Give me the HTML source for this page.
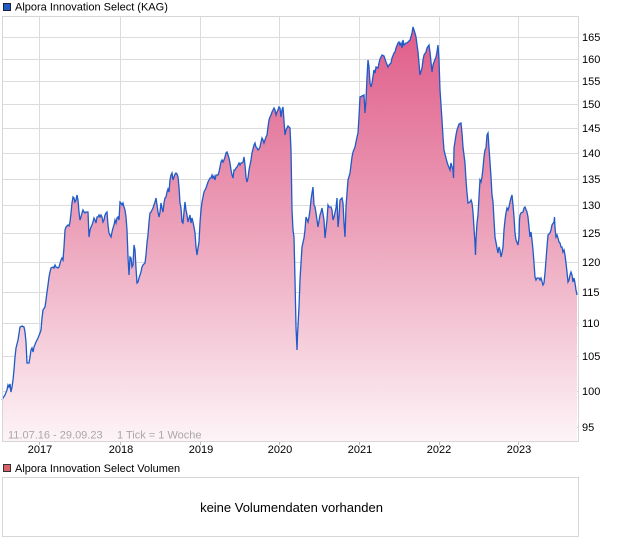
<!DOCTYPE html>
<html>
<head>
<meta charset="utf-8">
<style>
html,body{margin:0;padding:0;background:#fff;}
svg{display:block;}
text{font-family:"Liberation Sans",Arial,sans-serif;font-size:11px;}
</style>
</head>
<body>
<svg width="620" height="546" viewBox="0 0 620 546" xmlns="http://www.w3.org/2000/svg">
<defs>
<linearGradient id="fg" gradientUnits="userSpaceOnUse" x1="0" y1="20" x2="0" y2="441">
<stop offset="0" stop-color="#df5a88"/>
<stop offset="0.5" stop-color="#eca2ba"/>
<stop offset="1" stop-color="#fdf4f7"/>
</linearGradient>
</defs>
<rect x="0" y="0" width="620" height="546" fill="#fff"/>
<!-- title legend -->
<rect x="3.5" y="3.5" width="7" height="7" fill="#1f5bc6" stroke="#223" stroke-width="1"/>
<text x="15" y="10.5" fill="#000">Alpora Innovation Select (KAG)</text>
<!-- grid -->
<g stroke="#dcdcdc" stroke-width="1">
<line x1="2" x2="578" y1="37.5" y2="37.5"/>
<line x1="2" x2="578" y1="59.5" y2="59.5"/>
<line x1="2" x2="578" y1="81.5" y2="81.5"/>
<line x1="2" x2="578" y1="104.5" y2="104.5"/>
<line x1="2" x2="578" y1="128.5" y2="128.5"/>
<line x1="2" x2="578" y1="153.5" y2="153.5"/>
<line x1="2" x2="578" y1="179.5" y2="179.5"/>
<line x1="2" x2="578" y1="205.5" y2="205.5"/>
<line x1="2" x2="578" y1="233.5" y2="233.5"/>
<line x1="2" x2="578" y1="262.5" y2="262.5"/>
<line x1="2" x2="578" y1="292.5" y2="292.5"/>
<line x1="2" x2="578" y1="323.5" y2="323.5"/>
<line x1="2" x2="578" y1="356.5" y2="356.5"/>
<line x1="2" x2="578" y1="391.5" y2="391.5"/>
<line x1="2" x2="578" y1="427.5" y2="427.5"/>
<line x1="39.5" x2="39.5" y1="16" y2="441"/>
<line x1="120.5" x2="120.5" y1="16" y2="441"/>
<line x1="200.5" x2="200.5" y1="16" y2="441"/>
<line x1="279.5" x2="279.5" y1="16" y2="441"/>
<line x1="359.5" x2="359.5" y1="16" y2="441"/>
<line x1="439.5" x2="439.5" y1="16" y2="441"/>
<line x1="518.5" x2="518.5" y1="16" y2="441"/>
</g>
<!-- series -->
<path fill="url(#fg)" stroke="none" d="M2,400 L3,398 5,395 7,390 8,385 9,387 10,384 11,392 12,387 13,380 14,370 15,357 16,348 18,340 20,327 22,326 24,327 25,332 26,342 27,363 29,363 30,357 31,350 32,348 33,352 34,347 36,342 38,338 40,333 41,330 42,318 43,310 45,307 46,300 47,292 48,285 49,277 50,272 51,268 53,267 54,268 55,265 56,267 58,268 59,267 61,260 62,258 63,260 64,247 65,230 66,227 68,225 69,226 70,222 71,213 72,203 73,197 74,198 75,202 76,200 77,195 78,200 79,212 80,220 81,217 82,213 83,210 84,212 85,213 86,212 88,212 89,237 90,230 91,227 92,225 93,222 94,218 95,220 96,223 97,217 98,217 99,215 100,217 101,215 102,217 103,222 104,220 105,215 106,213 107,212 108,225 109,233 110,235 111,237 112,232 113,228 114,225 115,220 116,223 117,218 118,217 119,220 120,202 121,203 122,205 123,203 124,207 125,210 126,217 127,230 128,257 129,275 130,257 131,258 132,267 133,265 134,245 135,250 136,268 137,283 138,282 139,278 141,272 142,267 143,265 145,263 146,255 147,243 148,235 149,222 150,213 151,212 153,208 154,205 155,202 156,198 157,205 158,212 159,217 160,212 161,203 162,208 163,212 164,203 165,198 166,197 167,192 168,189 169,192 170,180 171,175 172,173 173,180 174,177 175,174 176,173 177,174 178,177 179,187 180,203 181,208 182,222 183,223 184,212 185,202 186,210 187,215 188,222 190,215 191,223 192,218 193,222 194,227 195,233 196,247 197,255 198,248 199,242 200,223 201,210 202,202 203,197 204,192 205,190 206,188 207,185 208,182 209,180 210,178 211,178 212,175 213,178 214,176 215,180 216,175 218,175 219,172 220,167 221,162 222,160 223,162 224,160 225,157 226,153 227,152 228,155 229,158 230,163 231,170 232,175 233,178 234,170 235,170 236,168 237,167 238,165 239,163 240,165 241,163 242,163 243,162 244,157 245,165 246,177 247,182 248,178 249,170 250,165 251,160 252,153 253,149 254,145 255,143 256,147 257,148 258,150 259,149 260,147 261,142 262,138 263,140 264,143 265,140 266,137 267,135 268,127 269,120 270,117 271,115 272,112 273,110 274,108 275,110 276,115 277,112 278,110 279,107 280,108 281,117 282,110 283,107 285,135 286,130 288,126 290,128 291,150 292,210 293,230 294,237 295,280 296,327 297,350 297.5,335 299,307 300,280 301,263 302,247 304,238 305,230 306,217 308,222 309,217 310,210 311,200 312,193 313,187 314,205 315,207 316,213 318,227 320,215 321,212 322,208 324,220 325,238 327,220 328,205 329,207 331,207 332,210 333,220 334,217 336,208 337,198 338,227 339,217 340,200 342,198 343,203 344,223 345,237 346,207 347,193 348,180 350,173 352,157 353,152 355,147 357,137 358,133 359,117 360,97 362,96 364,95 365,113 366,100 367,77 368,60 369,67 370,83 371,87 372,83 374,70 375,73 376,67 378,68 379,63 380,59 382,55 384,56 386,62 388,67 389,65 391,63 392,58 394,53 395,52 396,48 398,43 399,42 400,45 401,43 402,48 403,40 404,45 406,43 407,43 408,42 410,40 412,33 413,27 414,30 415,33 416,37 418,52 419,63 420,75 422,68 423,60 424,55 426,52 427,48 429,45 430,52 432,72 433,65 434,62 436,57 437,52 438,45 439,60 440,90 442,120 443,137 444,150 446,158 447,162 448,165 450,170 451,163 453,170 453.5,178 454,148 456,135 457,130 459,124 461,123 462,133 463,147 465,163 466,180 467,193 468,203 470,202 471,200 472,203 473,212 474,228 475,243 475.5,255 476,240 477,223 478,215 479,197 480,180 481,182 482,177 483,168 484,157 485,150 486,148 487,135 488,133 488.5,140 489,148 490,162 491,177 492,195 493,202 494,220 495,237 497,248 498,253 499,247 500,250 501,257 502,253 503,247 504,230 505,220 506,213 507,208 508,210 509,207 510,202 511,198 512,195 513,205 514,217 515,233 516,240 518,245 519,237 519.5,220 520,215 521,213 523,212 524,208 525,207 527,212 528,217 529,227 530,237 531,232 532,240 533,250 534,263 535,277 536,280 537,278 539,278 540,280 541,278 543,285 544,283 545,273 546,260 547,247 548,235 550,233 551,230 552,225 554,222 554.5,217 555,228 556,237 557,235 558,238 559,242 560,243 561,247 562,247 563,252 564,250 565,255 566,263 567,272 568,282 569,280 570,275 571,272 572,275 573,282 574,278 575,283 576,290 577,295 L577,441 L2,441 Z"/>
<path fill="none" stroke="#1e5bc8" stroke-width="1.3" stroke-linejoin="miter" d="M2,400 L3,398 5,395 7,390 8,385 9,387 10,384 11,392 12,387 13,380 14,370 15,357 16,348 18,340 20,327 22,326 24,327 25,332 26,342 27,363 29,363 30,357 31,350 32,348 33,352 34,347 36,342 38,338 40,333 41,330 42,318 43,310 45,307 46,300 47,292 48,285 49,277 50,272 51,268 53,267 54,268 55,265 56,267 58,268 59,267 61,260 62,258 63,260 64,247 65,230 66,227 68,225 69,226 70,222 71,213 72,203 73,197 74,198 75,202 76,200 77,195 78,200 79,212 80,220 81,217 82,213 83,210 84,212 85,213 86,212 88,212 89,237 90,230 91,227 92,225 93,222 94,218 95,220 96,223 97,217 98,217 99,215 100,217 101,215 102,217 103,222 104,220 105,215 106,213 107,212 108,225 109,233 110,235 111,237 112,232 113,228 114,225 115,220 116,223 117,218 118,217 119,220 120,202 121,203 122,205 123,203 124,207 125,210 126,217 127,230 128,257 129,275 130,257 131,258 132,267 133,265 134,245 135,250 136,268 137,283 138,282 139,278 141,272 142,267 143,265 145,263 146,255 147,243 148,235 149,222 150,213 151,212 153,208 154,205 155,202 156,198 157,205 158,212 159,217 160,212 161,203 162,208 163,212 164,203 165,198 166,197 167,192 168,189 169,192 170,180 171,175 172,173 173,180 174,177 175,174 176,173 177,174 178,177 179,187 180,203 181,208 182,222 183,223 184,212 185,202 186,210 187,215 188,222 190,215 191,223 192,218 193,222 194,227 195,233 196,247 197,255 198,248 199,242 200,223 201,210 202,202 203,197 204,192 205,190 206,188 207,185 208,182 209,180 210,178 211,178 212,175 213,178 214,176 215,180 216,175 218,175 219,172 220,167 221,162 222,160 223,162 224,160 225,157 226,153 227,152 228,155 229,158 230,163 231,170 232,175 233,178 234,170 235,170 236,168 237,167 238,165 239,163 240,165 241,163 242,163 243,162 244,157 245,165 246,177 247,182 248,178 249,170 250,165 251,160 252,153 253,149 254,145 255,143 256,147 257,148 258,150 259,149 260,147 261,142 262,138 263,140 264,143 265,140 266,137 267,135 268,127 269,120 270,117 271,115 272,112 273,110 274,108 275,110 276,115 277,112 278,110 279,107 280,108 281,117 282,110 283,107 285,135 286,130 288,126 290,128 291,150 292,210 293,230 294,237 295,280 296,327 297,350 297.5,335 299,307 300,280 301,263 302,247 304,238 305,230 306,217 308,222 309,217 310,210 311,200 312,193 313,187 314,205 315,207 316,213 318,227 320,215 321,212 322,208 324,220 325,238 327,220 328,205 329,207 331,207 332,210 333,220 334,217 336,208 337,198 338,227 339,217 340,200 342,198 343,203 344,223 345,237 346,207 347,193 348,180 350,173 352,157 353,152 355,147 357,137 358,133 359,117 360,97 362,96 364,95 365,113 366,100 367,77 368,60 369,67 370,83 371,87 372,83 374,70 375,73 376,67 378,68 379,63 380,59 382,55 384,56 386,62 388,67 389,65 391,63 392,58 394,53 395,52 396,48 398,43 399,42 400,45 401,43 402,48 403,40 404,45 406,43 407,43 408,42 410,40 412,33 413,27 414,30 415,33 416,37 418,52 419,63 420,75 422,68 423,60 424,55 426,52 427,48 429,45 430,52 432,72 433,65 434,62 436,57 437,52 438,45 439,60 440,90 442,120 443,137 444,150 446,158 447,162 448,165 450,170 451,163 453,170 453.5,178 454,148 456,135 457,130 459,124 461,123 462,133 463,147 465,163 466,180 467,193 468,203 470,202 471,200 472,203 473,212 474,228 475,243 475.5,255 476,240 477,223 478,215 479,197 480,180 481,182 482,177 483,168 484,157 485,150 486,148 487,135 488,133 488.5,140 489,148 490,162 491,177 492,195 493,202 494,220 495,237 497,248 498,253 499,247 500,250 501,257 502,253 503,247 504,230 505,220 506,213 507,208 508,210 509,207 510,202 511,198 512,195 513,205 514,217 515,233 516,240 518,245 519,237 519.5,220 520,215 521,213 523,212 524,208 525,207 527,212 528,217 529,227 530,237 531,232 532,240 533,250 534,263 535,277 536,280 537,278 539,278 540,280 541,278 543,285 544,283 545,273 546,260 547,247 548,235 550,233 551,230 552,225 554,222 554.5,217 555,228 556,237 557,235 558,238 559,242 560,243 561,247 562,247 563,252 564,250 565,255 566,263 567,272 568,282 569,280 570,275 571,272 572,275 573,282 574,278 575,283 576,290 577,295"/>
<!-- plot border -->
<rect x="2.5" y="16.5" width="576" height="425" fill="none" stroke="#d6d6d6" stroke-width="1"/>
<!-- x ticks -->
<g stroke="#bbb" stroke-width="1">
<line x1="39.5" x2="39.5" y1="442" y2="445"/>
<line x1="120.5" x2="120.5" y1="442" y2="445"/>
<line x1="200.5" x2="200.5" y1="442" y2="445"/>
<line x1="279.5" x2="279.5" y1="442" y2="445"/>
<line x1="359.5" x2="359.5" y1="442" y2="445"/>
<line x1="439.5" x2="439.5" y1="442" y2="445"/>
<line x1="518.5" x2="518.5" y1="442" y2="445"/>
</g>
<text x="8" y="438.5" fill="#a8a8a8">11.07.16 - 29.09.23</text>
<text x="117" y="438.5" fill="#a8a8a8">1 Tick = 1 Woche</text>
<!-- y labels -->
<g fill="#000">
<text x="582" y="41">165</text>
<text x="582" y="63">160</text>
<text x="582" y="85">155</text>
<text x="582" y="108">150</text>
<text x="582" y="132">145</text>
<text x="582" y="157">140</text>
<text x="582" y="183">135</text>
<text x="582" y="209">130</text>
<text x="582" y="237">125</text>
<text x="582" y="266">120</text>
<text x="582" y="296">115</text>
<text x="582" y="327">110</text>
<text x="582" y="360">105</text>
<text x="582" y="395">100</text>
<text x="582" y="431">95</text>
</g>
<!-- x labels -->
<g fill="#000" text-anchor="middle">
<text x="40" y="453">2017</text>
<text x="121" y="453">2018</text>
<text x="201" y="453">2019</text>
<text x="280" y="453">2020</text>
<text x="360" y="453">2021</text>
<text x="439" y="453">2022</text>
<text x="519" y="453">2023</text>
</g>
<!-- volume -->
<rect x="3.5" y="464.5" width="7" height="7" fill="#d9636b" stroke="#333" stroke-width="1"/>
<text x="15" y="472" fill="#000">Alpora Innovation Select Volumen</text>
<rect x="2.5" y="477.5" width="576" height="59" fill="#fff" stroke="#d6d6d6" stroke-width="1"/>
<text x="291.5" y="512" fill="#000" text-anchor="middle" style="font-size:13px">keine Volumendaten vorhanden</text>
</svg>
</body>
</html>
